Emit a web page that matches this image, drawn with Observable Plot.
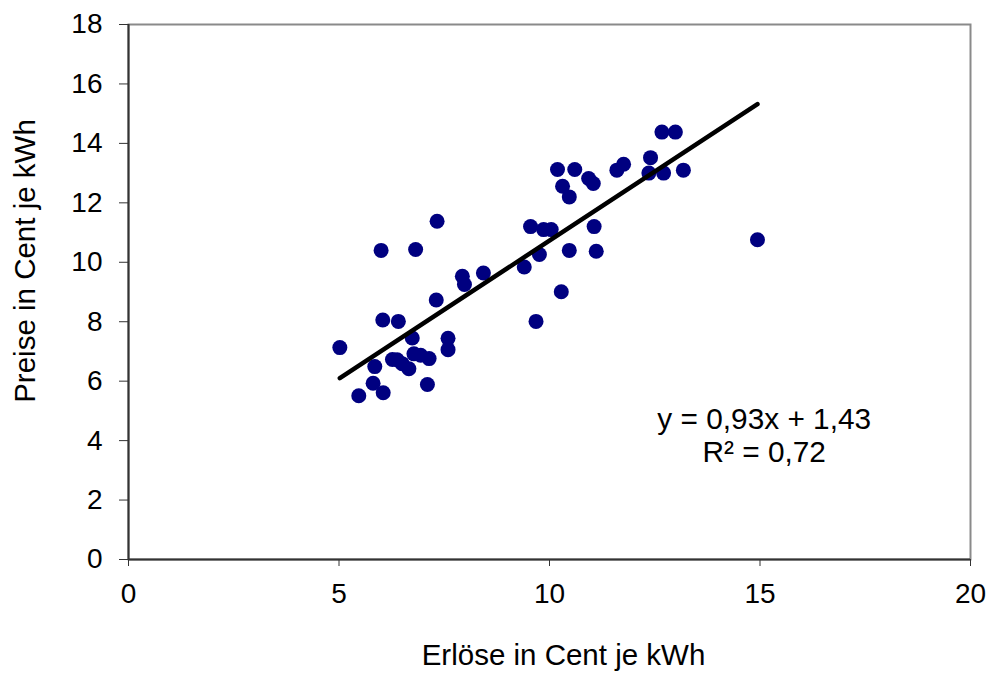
<!DOCTYPE html>
<html>
<head>
<meta charset="utf-8">
<script src="https://cdn.jsdelivr.net/npm/d3@7"></script>
<script src="https://cdn.jsdelivr.net/npm/@observablehq/plot@0.6"></script>
<style>
  html, body { margin: 0; padding: 0; background: #fff; }
  svg { display: block; }
</style>
</head>
<body>
<div id="chart"></div>
<script>
// --- data ---
const erloese = [5.02, 5.47, 5.81, 5.85, 6.00, 6.04, 6.05, 6.27, 6.38, 6.41, 6.50, 6.66, 6.74, 6.78, 6.82, 6.94,
  7.10, 7.14, 7.31, 7.33, 7.59, 7.59, 7.93, 7.98, 8.43, 9.40, 9.55, 9.68, 9.76, 9.86, 10.04, 10.19,
  10.28, 10.31, 10.47, 10.47, 10.60, 10.93, 11.04, 11.06, 11.11, 11.60, 11.76, 12.36, 12.40, 12.67,
  12.71, 12.99, 13.18, 14.94];
const preise = [7.13, 5.51, 5.93, 6.49, 10.40, 8.06, 5.61, 6.73, 6.72, 8.01, 6.59, 6.42, 7.45, 6.92, 10.43, 6.87,
  5.89, 6.76, 8.73, 11.38, 7.44, 7.06, 9.53, 9.25, 9.64, 9.84, 11.20, 8.01, 10.26, 11.10, 11.10, 13.12,
  9.01, 12.56, 12.20, 10.40, 13.12, 12.82, 12.65, 11.20, 10.37, 13.10, 13.30, 13.00, 13.52, 14.38,
  13.00, 14.38, 13.10, 10.76];
const xTicks = [0, 5, 10, 15, 20];
const yTicks = [0, 2, 4, 6, 8, 10, 12, 14, 16, 18];
const slope = 0.93;
const intercept = 1.43;
const equationLines = ["y = 0,93x + 1,43", "R² = 0,72"];
const xLabel = "Erlöse in Cent je kWh";
const yLabel = "Preise in Cent je kWh";

// --- layout ---
const annotationAt = {x: 15.1, y: 4.2};

const points = erloese.map((x, i) => ({x, y: preise[i]}));
const [xmin, xmax] = d3.extent(erloese);
const fit = [xmin, xmax].map(x => ({x, y: slope * x + intercept}));

const chart = Plot.plot({
  width: 990,
  height: 675,
  marginLeft: 128,
  marginRight: 20,
  marginTop: 24,
  marginBottom: 116,
  style: {fontFamily: "'Liberation Sans', Arial, sans-serif", fontSize: "28px", background: "#fff", color: "#000"},
  x: {domain: [0, 20]},
  y: {domain: [0, 18]},
  marks: [
    Plot.frame({stroke: "#8a8a8a", strokeWidth: 2}),
    Plot.axisX({ticks: xTicks, tickSize: 7, tickPadding: 17, tickFormat: d => String(d), label: null, stroke: "#333", fill: "#000", fontSize: 28}),
    Plot.axisY({ticks: yTicks, tickSize: 9, tickPadding: 17, tickFormat: d => String(d), label: null, stroke: "#333", fill: "#000", fontSize: 28}),
    Plot.ruleX([0], {stroke: "#333", strokeWidth: 2}),
    Plot.ruleY([0], {stroke: "#333", strokeWidth: 2}),
    Plot.dot(points, {x: "x", y: "y", r: 7.5, fill: "#000080", stroke: "none"}),
    Plot.line(fit, {x: "x", y: "y", stroke: "#000", strokeWidth: 4.5, strokeLinecap: "round"}),
    Plot.text([equationLines.join("\n")], {x: () => annotationAt.x, y: () => annotationAt.y, text: d => d, fontSize: 29.8, lineHeight: 1.13, textAnchor: "middle", lineAnchor: "middle", fill: "#000"}),
    Plot.text([xLabel], {text: d => d, frameAnchor: "bottom", textAnchor: "middle", lineAnchor: "middle", dx: 14, dy: 96, fontSize: 29.5, fill: "#000"}),
    Plot.text([yLabel], {text: d => d, frameAnchor: "left", textAnchor: "middle", lineAnchor: "middle", rotate: -90, dx: -103, dy: -31, fontSize: 29.5, fill: "#000"})
  ]
});
document.getElementById("chart").append(chart);
</script>
</body>
</html>
